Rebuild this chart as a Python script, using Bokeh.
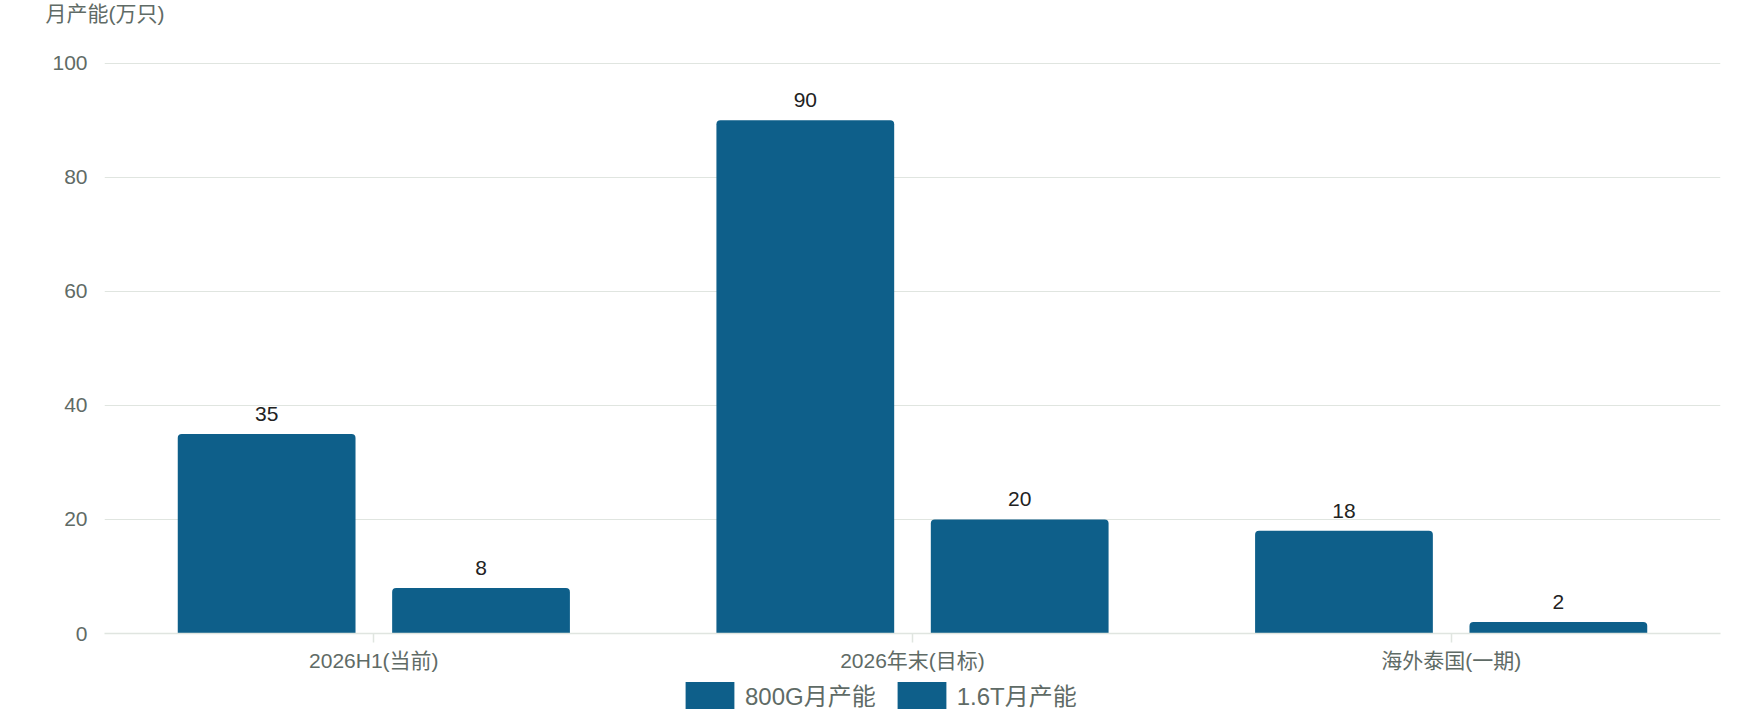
from bokeh.plotting import figure
from bokeh.layouts import column
from bokeh.models import (ColumnDataSource, FactorRange, Range1d, Legend, LegendItem,
                          LabelSet, FixedTicker)
from bokeh.core.properties import value
from bokeh.transform import dodge
from bokeh.embed import file_html
from bokeh.resources import INLINE

categories = ["2026H1(当前)", "2026年末(目标)", "海外泰国(一期)"]
series_names = ["800G月产能", "1.6T月产能"]
values_800g = [35, 90, 18]
values_16t = [8, 20, 2]
y_ticks = [0, 20, 40, 60, 80, 100]
y_title = "月产能(万只)"

FONT = "'Liberation Sans', 'Noto Sans CJK SC', sans-serif"
BAR = "#0e5f8a"
GRID = "#e0e5e0"
AXIS_TXT = "#5f6b66"


def strip(h, **kw):
    f = figure(width=1760, height=h, x_range=Range1d(0, 1), y_range=Range1d(0, 1),
               x_axis_type=None, y_axis_type=None, output_backend="svg",
               toolbar_location=None, min_border_left=0, min_border_right=0,
               min_border_top=0, min_border_bottom=0, **kw)
    f.grid.grid_line_color = None
    f.outline_line_color = None
    return f


# header strip carrying the y-axis title
hd = strip(40, title=y_title)
hd.title.align = "left"
hd.title.offset = -59
hd.title.standoff = 0
hd.title.vertical_align = "middle"
hd.title.text_font_size = "21px"
hd.title.text_font_style = "normal"
hd.title.text_color = AXIS_TXT
hd.title.text_font = FONT

src = ColumnDataSource(dict(
    cat=categories,
    v1=values_800g,
    v2=values_16t,
    t1=[str(v) for v in values_800g],
    t2=[str(v) for v in values_16t],
))

p = figure(x_range=FactorRange(*categories), y_range=Range1d(0, 100.3),
           width=1760, height=638, output_backend="svg", toolbar_location=None,
           min_border_left=104, min_border_right=40, min_border_top=21, min_border_bottom=45)
p.outline_line_color = None

r1 = p.vbar(x=dodge("cat", -0.199, range=p.x_range), top="v1", width=0.33, source=src,
            fill_color=BAR, line_color=None, border_radius=(4, 4, 0, 0))
r2 = p.vbar(x=dodge("cat", 0.199, range=p.x_range), top="v2", width=0.33, source=src,
            fill_color=BAR, line_color=None, border_radius=(4, 4, 0, 0))

for col, ycol, off in (("t1", "v1", -0.199), ("t2", "v2", 0.199)):
    lab = LabelSet(x=dodge("cat", off, range=p.x_range), y=ycol,
                   text=col, source=src, text_align="center", text_baseline="alphabetic",
                   y_offset=13, text_font_size="21px", text_color="#222222",
                   text_font=value(FONT))
    p.add_layout(lab)

# axes
p.xgrid.grid_line_color = None
p.ygrid.grid_line_color = GRID
p.ygrid.grid_line_width = 1.2
p.yaxis.ticker = FixedTicker(ticks=y_ticks)
p.yaxis.axis_line_color = None
p.yaxis.major_tick_line_color = None
p.yaxis.minor_tick_line_color = None
p.yaxis.major_tick_out = 0
p.yaxis.major_tick_in = 0
p.yaxis.minor_tick_out = 0
p.yaxis.major_label_standoff = 17
p.yaxis.major_label_text_font_size = "21px"
p.yaxis.major_label_text_color = AXIS_TXT
p.yaxis.major_label_text_font = FONT

p.xaxis.axis_line_color = GRID
p.xaxis.axis_line_width = 1.5
p.xaxis.major_tick_line_color = GRID
p.xaxis.major_tick_line_width = 1.5
p.xaxis.major_tick_in = 0
p.xaxis.major_tick_out = 9
p.xaxis.major_label_standoff = 6
p.xaxis.major_label_text_font_size = "21px"
p.xaxis.major_label_text_color = AXIS_TXT
p.xaxis.major_label_text_font = FONT

# legend strip below the chart (legend keys only, zero-size marks)
lg = strip(42)
key_src = ColumnDataSource(dict(x=[0.5], top=[0.0]))
d1 = lg.vbar(x="x", top="top", width=0, source=key_src, fill_color=BAR, line_color=None)
d2 = lg.vbar(x="x", top="top", width=0, source=key_src, fill_color=BAR, line_color=None)
legend = Legend(items=[LegendItem(label=series_names[0], renderers=[d1]),
                       LegendItem(label=series_names[1], renderers=[d2])],
                orientation="horizontal", location=(575, 8),
                glyph_width=61, glyph_height=34, label_text_font_size="24px",
                label_text_color=AXIS_TXT, label_text_font=FONT, label_standoff=5,
                spacing=15, padding=0, margin=0, border_line_color=None,
                background_fill_alpha=0)
lg.add_layout(legend, "center")

layout = column(hd, p, lg, spacing=0)
open("out.html", "w").write(file_html(layout, INLINE))
